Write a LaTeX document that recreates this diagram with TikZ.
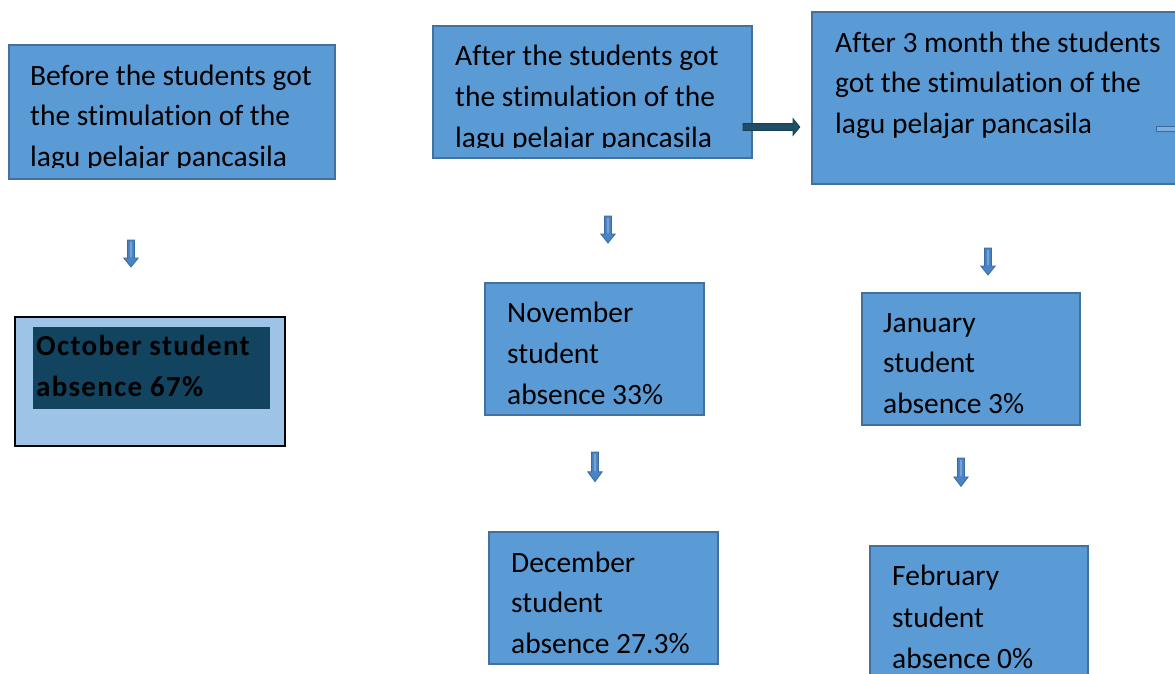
\documentclass[tikz,border=0pt]{standalone}
\usepackage{fontspec}
\setmainfont{Carlito}[Ligatures=NoCommon]
\newfontfamily\octfont[LetterSpace=4.5,Ligatures=NoCommon]{Carlito}
\definecolor{boxfill}{HTML}{5B9BD5}
\definecolor{boxline}{HTML}{41719C}
\definecolor{octfill}{HTML}{9DC3E6}
\definecolor{octdark}{HTML}{124460}
\definecolor{arrowteal}{HTML}{1F4E66}
\definecolor{arrowblue}{HTML}{4A84C4}
\definecolor{arrowline}{HTML}{3A6AA0}
\begin{document}
\begin{tikzpicture}[x=1pt,y=-1pt,
  bluebox/.style={draw=boxline, line width=1.6pt, fill=boxfill, rectangle, outer sep=0pt, inner sep=0pt, anchor=north west},
  txt/.style={anchor=base west, inner sep=0pt, font=\fontsize{29.5}{41}\selectfont},
  octtxt/.style={anchor=base west, inner sep=0pt, font=\octfont\bfseries\fontsize{29}{41}\selectfont},
  darrow/.pic={
    \filldraw[fill=arrowblue, draw=arrowline, line width=0.8pt]
      (-3.4,0) -- (3.4,0) -- (3.4,18) -- (7.2,18) -- (0,27) -- (-7.2,18) -- (-3.4,18) -- cycle;
    \draw[white!25!arrowblue, line width=1.6pt] (0,2) -- (0,17);
  }]
\useasboundingbox (0,0) rectangle (1175,673);

% boxes
\node[bluebox, minimum width=326pt, minimum height=134pt] (b1) at (9,45) {};
\node[bluebox, minimum width=319pt, minimum height=132pt] (b2) at (433,26) {};
\node[bluebox, minimum width=380pt, minimum height=172pt] (b3) at (812,12) {};
\node[bluebox, minimum width=219pt, minimum height=132pt] (nov) at (485,283) {};
\node[bluebox, minimum width=229pt, minimum height=132pt] (dec) at (489,532) {};
\node[bluebox, minimum width=218pt, minimum height=132pt] (jan) at (862,293) {};
\node[bluebox, minimum width=218pt, minimum height=160pt] (feb) at (870,546) {};

% October box
\node[draw=black, line width=1.6pt, fill=octfill, rectangle, outer sep=0pt, anchor=north west,
      minimum width=270pt, minimum height=129pt] (oct) at (15,317) {};
\node[fill=octdark, rectangle, anchor=north west, outer sep=0pt,
      minimum width=237pt, minimum height=82pt] (octin) at (33,327) {};
\node[octtxt] (oct1) at (36,355) {October student};
\node[octtxt] (oct2) at (36,396) {absence 67\%};

% texts of box 1 (clipped)
\begin{scope}
  \clip (9,45) rectangle (335,167);
  \node[txt] (b1a) at (30,85) {Before the students got};
  \node[txt] (b1b) at (30,125) {the stimulation of the};
  \node[txt] (b1c) at (30,166) {lagu pelajar pancasila};
\end{scope}
% texts of box 2 (clipped)
\begin{scope}
  \clip (433,26) rectangle (752,147);
  \node[txt] (b2a) at (455,65) {After the students got};
  \node[txt] (b2b) at (455,106) {the stimulation of the};
  \node[txt] (b2c) at (455,147) {lagu pelajar pancasila};
\end{scope}
% box 3 texts
\node[txt] (b3a) at (835,52) {After 3 month the students};
\node[txt] (b3b) at (835,92) {got the stimulation of the};
\node[txt] (b3c) at (835,133) {lagu pelajar pancasila};
% small shape at right edge of box 3
\node[draw=arrowline, line width=1pt, fill=boxfill!80!white, rectangle, anchor=north west,
      minimum width=30pt, minimum height=5pt, inner sep=0pt, outer sep=0pt] (b3tab) at (1156,126) {};

% month texts
\node[txt] (nov1) at (507,322) {November};
\node[txt] (nov2) at (507,363) {student};
\node[txt] (nov3) at (507,404) {absence 33\%};
\node[txt] (dec1) at (511,572) {December};
\node[txt] (dec2) at (511,612) {student};
\node[txt] (dec3) at (511,653) {absence 27.3\%};
\node[txt] (jan1) at (883,332) {January};
\node[txt] (jan2) at (883,372) {student};
\node[txt] (jan3) at (883,413) {absence 3\%};
\node[txt] (feb1) at (892,585) {February};
\node[txt] (feb2) at (892,627) {student};
\node[txt] (feb3) at (892,668) {absence 0\%};

% horizontal arrow between box 2 and box 3
\coordinate (hs) at (743,127);
\coordinate (he) at (800,127);
\filldraw[fill=arrowteal, draw=arrowteal!80!black, line width=0.6pt]
  (hs) ++(0,-3.5) -- ++(50,0) -- ++(0,-5) -- (he) -- ++(-7,8.5) -- ++(0,-5) -- ++(-50,0) -- cycle;

% down block arrows
\pic at (131,240) {darrow};
\pic at (608,216) {darrow};
\pic[yscale=1.1] at (595,452) {darrow};
\pic at (988,248) {darrow};
\pic[yscale=1.05] at (961,458) {darrow};
\end{tikzpicture}
\end{document}
